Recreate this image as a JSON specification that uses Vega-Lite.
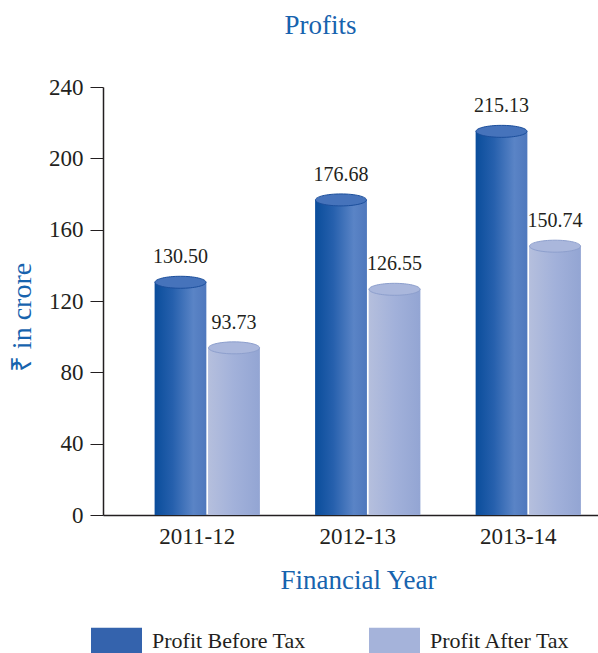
{
  "$schema": "https://vega.github.io/schema/vega-lite/v6.json",
  "width": 495,
  "height": 428,
  "autosize": {"type": "none"},
  "padding": {"left": 103, "top": 87, "right": 0, "bottom": 138},
  "background": "white",
  "title": {"text": "Profits", "fontSize": 27, "font": "Liberation Serif", "color": "#1763ae", "fontWeight": "normal", "anchor": "middle", "frame": "group", "dx": -30, "offset": 15, "baseline": "alphabetic"},
  "data": {"values": [
    {"year": "2011-12", "series": "Profit Before Tax", "value": 130.50},
    {"year": "2011-12", "series": "Profit After Tax", "value": 93.73},
    {"year": "2012-13", "series": "Profit Before Tax", "value": 176.68},
    {"year": "2012-13", "series": "Profit After Tax", "value": 126.55},
    {"year": "2013-14", "series": "Profit Before Tax", "value": 215.13},
    {"year": "2013-14", "series": "Profit After Tax", "value": 150.74}
  ]},
  "encoding": {
    "x": {"field": "year", "type": "nominal", "title": "Financial Year",
      "scale": {"paddingInner": 0.346, "paddingOuter": 0.215, "align": 0.75},
      "axis": {"labelAngle": 0, "ticks": false, "labelPadding": 10, "labelBaseline": "top", "labelOffset": -10, "labelFontSize": 23, "titleX": 255, "titleY": 73, "titleBaseline": "alphabetic", "titleAlign": "center", "titleFontSize": 27, "domainWidth": 1.5}},
    "xOffset": {"field": "series", "type": "nominal", "sort": ["Profit Before Tax", "Profit After Tax"], "scale": {"paddingInner": 0.04, "paddingOuter": 0}},
    "y": {"field": "value", "type": "quantitative", "title": "₹ in crore",
      "scale": {"domain": [0, 240], "nice": false},
      "axis": {"values": [0, 40, 80, 120, 160, 200, 240], "tickSize": 13, "labelPadding": 7, "labelFontSize": 23, "titleX": -81, "titleY": 230, "titleAlign": "center", "titleBaseline": "middle", "titleAngle": -90, "titleFontSize": 28, "domainWidth": 1.5}}
  },
  "layer": [
    {"mark": {"type": "bar"},
     "encoding": {"color": {"field": "series", "type": "nominal",
       "scale": {"domain": ["Profit Before Tax", "Profit After Tax"], "range": ["#3463ad", "#a5b3da"]},
       "legend": {"orient": "none", "legendX": -12, "legendY": 528, "direction": "horizontal", "columns": 2, "title": null, "symbolType": "M-1,-0.51H1V0.51H-1Z", "symbolSize": 2601, "symbolStrokeWidth": 0, "symbolOpacity": 1, "labelFontSize": 22, "labelFont": "Liberation Serif", "labelColor": "#231f20", "labelOffset": 10, "columnPadding": 63, "padding": 0, "labelLimit": 300}}}},
    {"transform": [{"filter": "datum.series === 'Profit Before Tax'"}],
     "mark": {"type": "bar", "color": {"gradient": "linear", "x1": 0, "y1": 0, "x2": 1, "y2": 0, "stops": [{"offset": 0, "color": "#0a4d9b"}, {"offset": 0.35, "color": "#2660ad"}, {"offset": 0.75, "color": "#5a84c6"}, {"offset": 1, "color": "#4f78bd"}]}},
     "encoding": {}},
    {"transform": [{"filter": "datum.series === 'Profit After Tax'"}],
     "mark": {"type": "bar", "color": {"gradient": "linear", "x1": 0, "y1": 0, "x2": 1, "y2": 0, "stops": [{"offset": 0, "color": "#b5bfdd"}, {"offset": 0.5, "color": "#a2b1da"}, {"offset": 1, "color": "#93a5d3"}]}},
     "encoding": {}},
    {"mark": {"type": "point", "shape": "M-1,0A1,0.235,0,1,0,1,0A1,0.235,0,1,0,-1,0Z", "size": 2601, "filled": true, "opacity": 1, "strokeWidth": 1},
     "encoding": {
       "fill": {"field": "series", "type": "nominal", "scale": {"domain": ["Profit Before Tax", "Profit After Tax"], "range": ["#4673bb", "#aab7dc"]}, "legend": null},
       "stroke": {"field": "series", "type": "nominal", "scale": {"domain": ["Profit Before Tax", "Profit After Tax"], "range": ["#1c4f9c", "#8d9fcd"]}, "legend": null}}},
    {"mark": {"type": "text", "baseline": "bottom", "dy": -15, "fontSize": 20, "font": "Liberation Serif", "color": "#231f20"},
     "encoding": {"text": {"field": "value", "type": "quantitative", "format": ".2f"}}}
  ],
  "config": {
    "view": {"stroke": null},
    "axis": {"labelFont": "Liberation Serif", "titleFont": "Liberation Serif", "domainColor": "#231f20", "tickColor": "#231f20", "labelColor": "#231f20", "titleColor": "#1763ae", "grid": false, "titleFontWeight": "normal"}
  }
}
